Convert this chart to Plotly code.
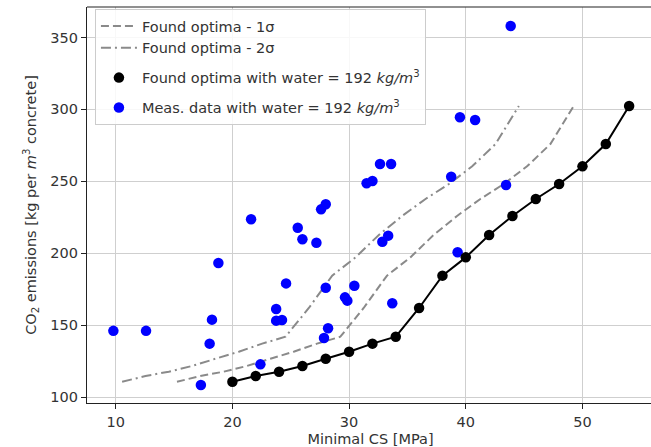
import plotly.graph_objects as go

# Found optima (black)
opt_cs = [20, 22, 24, 26, 28, 30, 32, 34, 36, 38, 40, 42, 44, 46, 48, 50, 52, 54]
opt_co2 = [110.6, 114.6, 117.6, 121.6, 126.6, 131.5, 137.1, 141.9, 161.9, 184.4,
           197.1, 212.7, 225.9, 237.7, 248.1, 260.4, 275.9, 302.4]

# 1 sigma curve
sig1_cs = [15.25, 17.25, 19.25, 21.25, 23.25, 25.25, 27.25, 29.25, 31.25, 33.25,
           35.25, 37.25, 39.25, 41.25, 43.25, 45.25, 47.25, 49.25]
sig1_co2 = [110.6, 114.6, 117.6, 121.6, 126.6, 131.5, 137.1, 141.9, 161.9, 184.4,
            197.1, 212.7, 225.9, 237.7, 248.1, 260.4, 275.9, 302.4]

# 2 sigma curve
sig2_cs = [10.55, 12.55, 14.55, 16.55, 18.55, 20.55, 22.55, 24.55, 26.55, 28.55,
           30.55, 32.55, 34.55, 36.55, 38.55, 40.55, 42.55, 44.55]
sig2_co2 = [110.6, 114.6, 117.6, 121.6, 126.6, 131.5, 137.1, 141.9, 161.9, 184.4,
            197.1, 212.7, 225.9, 237.7, 248.1, 260.4, 275.9, 302.4]

# Measured data (blue)
meas_cs = [9.8, 12.6, 17.3, 18.05, 18.25, 18.8, 21.6, 22.4, 23.75, 23.75, 24.25, 24.6,
           25.6, 26.0, 27.2, 27.6, 28.0, 28.0, 28.2, 27.85, 29.65, 29.85, 30.45, 31.5,
           32.0, 32.65, 33.6, 32.85, 33.35, 33.7, 38.75, 39.5, 40.8, 39.3, 43.45, 43.85]
meas_co2 = [146, 146, 108.3, 137.1, 153.8, 193.2, 223.6, 122.7, 161.2, 153.1, 153.5, 179,
            217.7, 209.7, 207.3, 230.5, 234, 176, 147.8, 141, 169.3, 167, 177.4, 248.6,
            250.2, 262, 262, 208, 212.2, 165.2, 253.2, 294.5, 292.6, 200.6, 247.4, 358]

x_ticks = [10, 20, 30, 40, 50]
y_ticks = [100, 150, 200, 250, 300, 350]

FONT = "DejaVu Sans"
FS = 14.5
TXT = "#333333"
fig = go.Figure()

fig.add_trace(go.Scatter(x=sig1_cs, y=sig1_co2, mode="lines", name="Found optima - 1σ",
                         legendgroup="g1", legendrank=1,
                         line=dict(color="#8a8a8a", width=2, dash="8px,4px")))
fig.add_trace(go.Scatter(x=sig2_cs, y=sig2_co2, mode="lines", name="Found optima - 2σ",
                         legendgroup="g1", legendrank=2,
                         line=dict(color="#8a8a8a", width=2, dash="10px,4px,2px,4px")))
fig.add_trace(go.Scatter(x=meas_cs, y=meas_co2, mode="markers",
                         name="Meas. data with water = 192 <i>kg/m</i><sup>3</sup>",
                         legendgroup="g3", legendrank=4,
                         marker=dict(color="#0000ff", size=10.5, line=dict(width=0))))
fig.add_trace(go.Scatter(x=opt_cs, y=opt_co2, mode="lines", showlegend=False,
                         legendgroup="g2",
                         line=dict(color="black", width=2)))
fig.add_trace(go.Scatter(x=opt_cs, y=opt_co2, mode="markers",
                         name="Found optima with water = 192 <i>kg/m</i><sup>3</sup>",
                         legendgroup="g2", legendrank=3,
                         marker=dict(color="black", size=10.5, line=dict(width=0))))

axis_common = dict(
    showgrid=True, gridcolor="#cfcfcf", gridwidth=1.2,
    showline=True, linecolor="#222222", linewidth=1.2,
    ticks="outside", ticklen=5, tickwidth=1.2, tickcolor="#222222",
    tickfont=dict(family=FONT, size=FS, color=TXT),
    zeroline=False, mirror=False,
)

# The original axes box extends a few pixels past the 651 px picture edge.
fig.update_layout(
    width=654, height=447,
    margin=dict(l=87, r=0, t=7, b=44),
    paper_bgcolor="white", plot_bgcolor="white",
    font=dict(family=FONT, size=FS, color=TXT),
    xaxis=dict(range=[7.54, 56.13], tickvals=x_ticks,
               title=dict(text="Minimal CS [MPa]", standoff=6,
                          font=dict(family=FONT, size=FS, color=TXT)),
               **axis_common),
    yaxis=dict(range=[95.83, 371.2], tickvals=y_ticks,
               title=dict(text="CO<sub>2</sub> emissions [kg per <i>m</i><sup>3</sup> concrete]",
                          standoff=10, font=dict(family=FONT, size=FS, color=TXT)),
               **axis_common),
    legend=dict(x=0.014, y=0.995, xanchor="left", yanchor="top",
                bgcolor="rgba(255,255,255,0.85)", bordercolor="#cccccc", borderwidth=1,
                font=dict(family=FONT, size=FS, color=TXT),
                traceorder="grouped", tracegroupgap=8, itemwidth=36),
    showlegend=True,
)
# top spine
fig.add_shape(type="line", xref="paper", yref="paper", x0=0, x1=1, y0=1, y1=1,
              line=dict(color="#222222", width=1.2), layer="above")

fig.write_html("out.html", config={"displayModeBar": False},
               post_script="document.body.style.margin='0';"
                           "document.body.style.overflow='hidden';"
                           "document.documentElement.style.overflow='hidden';")
